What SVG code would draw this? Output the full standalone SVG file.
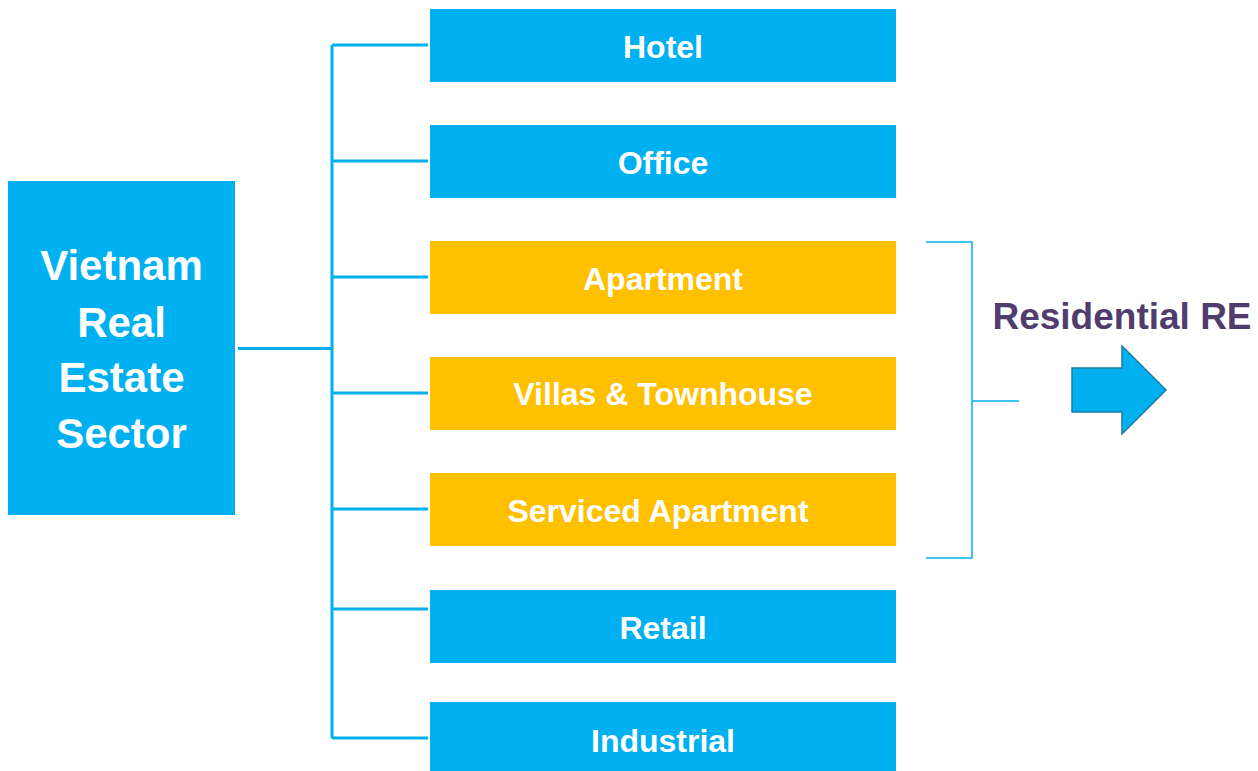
<svg xmlns="http://www.w3.org/2000/svg" width="1258" height="771" viewBox="0 0 1258 771">
  <style>
    .blue { fill: #00B0F0; }
    .gold { fill: #FFC000; }
    .lbl { font-family: "Liberation Sans", Arial, sans-serif; font-weight: bold; fill: #FFFFFF; text-anchor: middle; }
    .box-lbl { font-size: 32px; }
    .root-lbl { font-size: 42px; }
    .wire { fill: none; stroke: #00B0F0; stroke-width: 3; }
    .bracket { fill: none; stroke: #00B0F0; stroke-width: 1.5; }
  </style>

  <!-- tree connectors -->
  <g id="connectors">
    <path class="wire" d="M238 348.5 H332" />
    <path class="wire" d="M332 45 V738" />
    <path class="wire" d="M332 45 H428 M332 161 H428 M332 277 H428 M332 393 H428 M332 509 H428 M332 609 H428 M332 738 H428" />
    <path class="bracket" d="M926 242 H972 V558 H926 M972 401 H1019" />
  </g>

  <g id="root">
    <rect class="blue" x="8" y="181" width="227" height="334" />
    <text class="lbl root-lbl" x="121.5" y="280">Vietnam</text>
    <text class="lbl root-lbl" x="121.5" y="337">Real</text>
    <text class="lbl root-lbl" x="121.5" y="392">Estate</text>
    <text class="lbl root-lbl" x="121.5" y="448">Sector</text>
  </g>

  <g id="hotel">
    <rect class="blue" x="430" y="9" width="466" height="73" />
    <text class="lbl box-lbl" x="663" y="58">Hotel</text>
  </g>
  <g id="office">
    <rect class="blue" x="430" y="125" width="466" height="73" />
    <text class="lbl box-lbl" x="663" y="174">Office</text>
  </g>
  <g id="apartment">
    <rect class="gold" x="430" y="241" width="466" height="73" />
    <text class="lbl box-lbl" x="663" y="290">Apartment</text>
  </g>
  <g id="villas">
    <rect class="gold" x="430" y="357" width="466" height="73" />
    <text class="lbl box-lbl" x="663" y="405">Villas &amp; Townhouse</text>
  </g>
  <g id="serviced">
    <rect class="gold" x="430" y="473" width="466" height="73" />
    <text class="lbl box-lbl" x="658" y="522">Serviced Apartment</text>
  </g>
  <g id="retail">
    <rect class="blue" x="430" y="590" width="466" height="73" />
    <text class="lbl box-lbl" x="663" y="639">Retail</text>
  </g>
  <g id="industrial">
    <rect class="blue" x="430" y="702" width="466" height="73" />
    <text class="lbl box-lbl" x="663" y="752">Industrial</text>
  </g>

  <g id="residential">
    <text x="1122" y="329" font-family="Liberation Sans, Arial, sans-serif" font-weight="bold" font-size="37" fill="#503D6E" text-anchor="middle">Residential RE</text>
    <path d="M1072 368 H1122 V346 L1166 390 L1122 434 V412 H1072 Z" fill="#00B0F0" stroke="#1A7BA3" stroke-width="1.5" stroke-linejoin="miter" />
  </g>
</svg>
